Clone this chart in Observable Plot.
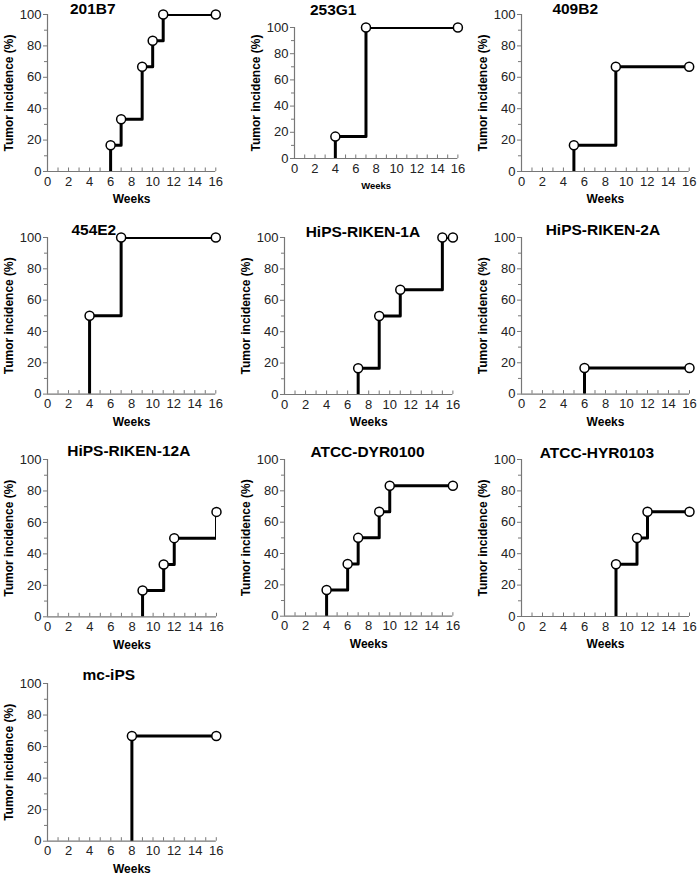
<!DOCTYPE html>
<html><head><meta charset="utf-8">
<script src="https://cdn.jsdelivr.net/npm/d3@7"></script>
<script src="https://cdn.jsdelivr.net/npm/@observablehq/plot@0.6"></script>
<style>
body{margin:0;background:#fff;}
#root{position:relative;width:698px;height:875px;overflow:hidden;font-family:"Liberation Sans",Arial,sans-serif;}
#root svg{position:absolute;}
</style></head><body><div id="root"></div>
<script>
// ---- data ----
const cellLines = ["201B7","253G1","409B2","454E2","HiPS-RIKEN-1A","HiPS-RIKEN-2A","HiPS-RIKEN-12A","ATCC-DYR0100","ATCC-HYR0103","mc-iPS"];
const weeks201B7 = [6,7,9,10,11,16];          const inc201B7 = [16.7,33.3,66.7,83.3,100,100];
const weeks253G1 = [4,7,16];                   const inc253G1 = [16.7,100,100];
const weeks409B2 = [5,9,16];                   const inc409B2 = [16.7,66.7,66.7];
const weeks454E2 = [4,7,16];                   const inc454E2 = [50,100,100];
const weeksR1A = [7,9,11,15,16];               const incR1A = [16.7,50,66.7,100,100];
const weeksR2A = [6,16];                       const incR2A = [16.7,16.7];
const weeksR12A = [9,11,12,16];                const incR12A = [16.7,33.3,50,66.7];
const weeksDYR = [4,6,7,9,10,16];              const incDYR = [16.7,33.3,50,66.7,83.3,83.3];
const weeksHYR = [9,11,12,16];                 const incHYR = [33.3,50,66.7,66.7];
const weeksMC = [8,16];                        const incMC = [66.7,66.7];
const seriesWeeks = [weeks201B7,weeks253G1,weeks409B2,weeks454E2,weeksR1A,weeksR2A,weeksR12A,weeksDYR,weeksHYR,weeksMC];
const seriesInc = [inc201B7,inc253G1,inc409B2,inc454E2,incR1A,incR2A,incR12A,incDYR,incHYR,incMC];
const xTickLabels = [0,2,4,6,8,10,12,14,16];
const xTickMinor = [0,1,2,3,4,5,6,7,8,9,10,11,12,13,14,15,16];
const yTickLabels = [0,20,40,60,80,100];
const yTickMinor = [10,30,50,70,90];
const xLabel = "Weeks";
const yLabel = "Tumor incidence (%)";

// ---- layout (pixel frame of each panel: x0, x16, y100, y0, title cx, title cy, weeks font size) ----
const frames = [
  [46.7,215,14,171,92,9,12],
  [294.3,457.7,27,158,333,9.5,9.5],
  [521.3,689,14,171,575,9,12],
  [46.7,215,236.7,393.3,93,229,12],
  [284.3,452.7,236.7,393.7,362.7,231.7,12],
  [521.3,689.3,236.7,393.3,602.7,229.3,12],
  [46.7,215.7,459,616.3,128,450.7,12],
  [284.3,452.7,459.3,616,367.3,451.7,12],
  [521.3,689.3,459.3,616.3,596.7,452.7,12],
  [46.7,215.5,683.3,841,108,675,12]
];
const ML = 52, MR = 10, MT = 26, MB = 42;
const axisColor = "#777", textColor = "#222";
const root = document.getElementById("root");

cellLines.forEach((name, i) => {
  const [x0, x1, yTop, yBot, tx, ty, wSize] = frames[i];
  const pw = x1 - x0, ph = yBot - yTop;
  const pts = seriesWeeks[i].map((w, j) => ({week: w, inc: seriesInc[i][j]}));
  const path = [{week: pts[0].week, inc: 0}, ...pts];
  const svg = Plot.plot({
    width: ML + pw + MR, height: MT + ph + MB,
    marginLeft: ML, marginRight: MR, marginTop: MT, marginBottom: MB,
    style: {background: "transparent", overflow: "visible", fontFamily: '"Liberation Sans", Arial, sans-serif', fontSize: "12px", color: textColor},
    x: {domain: [0, 16]},
    y: {domain: [0, 100]},
    marks: [
      Plot.ruleX(xTickMinor, {x: d => d, insetTop: ph - 3.5, stroke: axisColor, strokeWidth: 1}),
      Plot.axisX(xTickLabels, {tickSize: 0, tickPadding: 5, label: null, fill: textColor, fontSize: 13}),
      Plot.axisY(yTickLabels, {tickSize: 4, tickPadding: 2, label: null, stroke: axisColor, fill: textColor, fontSize: 13}),
      Plot.axisY(yTickMinor, {tickSize: 3, tickFormat: () => "", label: null, stroke: axisColor}),
      Plot.ruleY([0], {stroke: axisColor, strokeWidth: 1.2}),
      Plot.ruleX([0], {stroke: axisColor, strokeWidth: 1.2}),
      Plot.line(path, {x: "week", y: "inc", curve: "step-after", stroke: "black", strokeWidth: 3, clip: true}),
      Plot.dot(pts, {x: "week", y: "inc", r: 4.5, fill: "white", stroke: "black", strokeWidth: 1.5}),
      Plot.text([xLabel], {text: d => d, frameAnchor: "bottom", dy: ph > 140 ? 28 : 27, textAnchor: "middle", lineAnchor: "middle", fontWeight: "bold", fontSize: wSize, fill: "black"}),
      Plot.text([yLabel], {text: d => d, frameAnchor: "left", dx: -38.5, rotate: -90, textAnchor: "middle", lineAnchor: "middle", fontWeight: "bold", fontSize: 12, fill: "black"}),
      Plot.text([name], {text: d => d, frameAnchor: "top-left", dx: tx - x0, dy: ty - yTop, textAnchor: "middle", lineAnchor: "middle", fontWeight: "bold", fontSize: 15.5, fill: "black"})
    ]
  });
  svg.style.left = (x0 - ML) + "px";
  svg.style.top = (yTop - MT) + "px";
  root.appendChild(svg);
});
</script>
</body></html>
